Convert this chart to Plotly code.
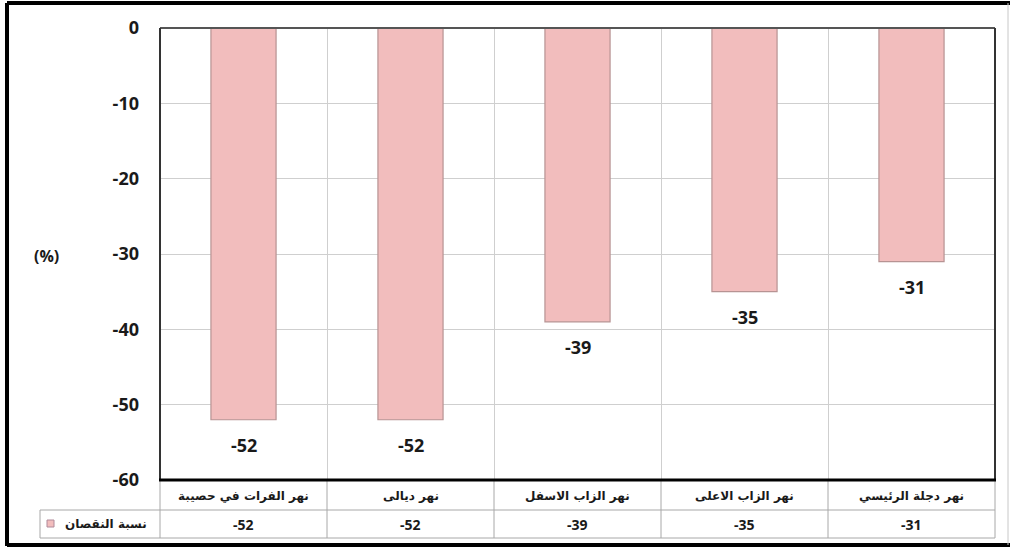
import plotly.graph_objects as go

categories = ["نهر الفرات في حصيبة", "نهر ديالى", "نهر الزاب الاسفل", "نهر الزاب الاعلى", "نهر دجلة الرئيسي"]
values = [-52, -52, -39, -35, -31]
series_name = "نسبة النقصان"
y_ticks = [0, -10, -20, -30, -40, -50, -60]

W, H = 1016, 549
L, R, T, B = 160, 995, 28, 480

def px(X):
    return (X - L) / (R - L)

def py(Y):
    return (B - Y) / (B - T)

NUM_FONT = "Open Sans"
AR_FONT = "DejaVu Sans"

fig = go.Figure()
fig.add_trace(go.Bar(
    x=categories, y=values, width=0.39,
    marker=dict(color="#F2BDBD", line=dict(color="#B79393", width=1.2)),
    showlegend=False, hoverinfo="skip",
))

annotations = []
for c, v in zip(categories, values):
    annotations.append(dict(x=c, y=v, xref="x", yref="y", text=f"<b>{v}</b>",
                            showarrow=False, yshift=-25, xanchor="center", yanchor="middle",
                            font=dict(family=NUM_FONT, size=18, color="#1a1a1a")))
    annotations.append(dict(x=c, y=0, xref="x", yref="paper", text=f"<b>{c}</b>",
                            showarrow=False, yshift=-16, xanchor="center", yanchor="middle",
                            font=dict(family=AR_FONT, size=12, color="#1a1a1a")))
    annotations.append(dict(x=c, y=0, xref="x", yref="paper", text=f"<b>{v}</b>",
                            showarrow=False, yshift=-44, xanchor="center", yanchor="middle",
                            font=dict(family=NUM_FONT, size=14, color="#1a1a1a")))

annotations.append(dict(x=px(106), y=py(524), xref="paper", yref="paper",
                        text=f"<b>{series_name}</b>", showarrow=False,
                        xanchor="center", yanchor="middle",
                        font=dict(family=AR_FONT, size=12, color="#1a1a1a")))
annotations.append(dict(x=px(46), y=py(256), xref="paper", yref="paper",
                        text="<b>(%)</b>", showarrow=False,
                        xanchor="center", yanchor="middle",
                        font=dict(family=NUM_FONT, size=16, color="#1a1a1a")))

shapes = []
def line(x0, y0, x1, y1, color, width):
    shapes.append(dict(type="line", xref="paper", yref="paper",
                       x0=px(x0), y0=py(y0), x1=px(x1), y1=py(y1),
                       line=dict(color=color, width=width), layer="above"))

grid = "#A8A8A8"
line(L, 510, R, 510, grid, 1)
line(40, 510, L, 510, grid, 1)
line(40, 538, R, 538, grid, 1)
line(40, 510, 40, 538, grid, 1)
for i in range(6):
    X = L + i * (R - L) / 5
    line(X, B, X, 538, grid, 1)

line(L, T, R, T, "#555555", 2)
line(L, T, L, B, "#333333", 2)
line(R, T, R, B, "#333333", 2)
line(L - 1, B, R + 1, B, "#000000", 3)

shapes.append(dict(type="rect", xref="paper", yref="paper",
                   x0=px(47), x1=px(54), y0=py(527), y1=py(520),
                   fillcolor="#F2BDBD", line=dict(color="#B08A9A", width=1), layer="above"))

line(7, 3, 1010, 3, "#000000", 4)
line(7, 3, 7, 546, "#000000", 4)
line(7, 545, 1010, 545, "#000000", 4)
line(1008, 3, 1008, 545, "#C8C8C8", 1)

fig.update_layout(
    width=W, height=H,
    margin=dict(l=L, r=W - R, t=T, b=H - B),
    paper_bgcolor="white", plot_bgcolor="white",
    annotations=annotations, shapes=shapes,
    bargap=0.61,
)
fig.update_xaxes(type="category", tickson="boundaries", showgrid=True,
                 gridcolor="#CFCFCF", gridwidth=1, showticklabels=False,
                 ticks="", range=[-0.5, 4.5], zeroline=False)
fig.update_yaxes(range=[-60, 0], tickvals=y_ticks,
                 ticktext=[f"<b>{t}</b>" for t in y_ticks],
                 showgrid=True, gridcolor="#CFCFCF", gridwidth=1, zeroline=False,
                 ticks="", ticklabelstandoff=20,
                 tickfont=dict(family=NUM_FONT, size=18, color="#1a1a1a"))

fig.write_html("out.html")
